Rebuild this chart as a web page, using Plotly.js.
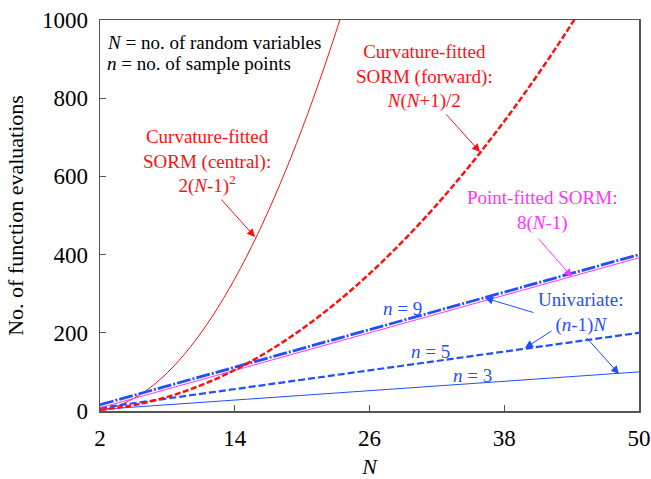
<!DOCTYPE html>
<html><head><meta charset="utf-8">
<script src="https://cdn.plot.ly/plotly-3.0.1.min.js"></script>
<style>body{margin:0;background:#fff}#c{width:651px;height:479px}</style>
</head><body><div id="c"></div>
<script>
// Values
const nCentral = [2,3,4,5,6,7,8,9,10,11,12,13,14,15,16,17,18,19,20,21,22,23,24];
const centralSORM = [2,8,18,32,50,72,98,128,162,200,242,288,338,392,450,512,578,648,722,800,882,968,1058];
const nForward = [2,4,6,8,10,12,14,16,18,20,22,24,26,28,30,32,34,36,38,40,42,44,46];
const forwardSORM = [3,10,21,36,55,78,105,136,171,210,253,300,351,406,465,528,595,666,741,820,903,990,1081];
const nLinear = [2,50];
const pointSORM = [8,392];
const univariate9 = [16,400];
const univariate5 = [8,200];
const univariate3 = [4,100];
const xTicks = [2,14,26,38,50];
const yTicks = [0,200,400,600,800,1000];

const RED = '#ff1010', BLUE = '#1f4fff', MAG = '#ff33ff';
const traces = [
  {x:nCentral, y:centralSORM, mode:'lines', line:{color:RED, width:1, shape:'spline'}},
  {x:nLinear, y:univariate3, mode:'lines', line:{color:BLUE, width:1}},
  {x:nLinear, y:univariate5, mode:'lines', line:{color:BLUE, width:2.2, dash:'7px,3px'}},
  {x:nLinear, y:pointSORM, mode:'lines', line:{color:MAG, width:1}},
  {x:nLinear, y:univariate9, mode:'lines', line:{color:BLUE, width:2.8, dash:'14px,2px,2px,2px'}},
  {x:nForward, y:forwardSORM, mode:'lines', line:{color:RED, width:2.5, dash:'6px,2.5px', shape:'spline'}}
];

const F = "'Liberation Serif', 'DejaVu Serif', serif";
function txt(x,y,text,color,align){return {x:x,y:y,xref:'x',yref:'y',text:text,showarrow:false,font:{family:F,size:19,color:color},align:align||'center',xanchor:align==='left'?'left':'center',yanchor:'middle'};}
function arr(tx,ty,ax,ay,color){return {x:tx,y:ty,ax:ax,ay:ay,xref:'x',yref:'y',axref:'x',ayref:'y',text:'',showarrow:true,arrowhead:2,arrowsize:1.6,arrowwidth:1,arrowcolor:color,standoff:0,startstandoff:0};}
const xd = px => 2+(px-100)/539*48;
const yd = py => (411-py)/391*1000;

const annotations = [
  txt(xd(105),yd(42),'<i>N</i> = no. of random variables','#000','left'),
  txt(xd(105),yd(63),'<i>n</i> = no. of sample points','#000','left'),
  txt(xd(207),yd(161),'Curvature-fitted<br>SORM (central):<br>2(<i>N</i>-1)<sup>2</sup>',RED),
  arr(xd(255),yd(237),xd(220),yd(198),RED),
  txt(xd(424),yd(76),'Curvature-fitted<br>SORM (forward):<br><i>N</i>(<i>N</i>+1)/2',RED),
  arr(xd(480),yd(152),xd(445),yd(113),RED),
  txt(xd(542),yd(210),'Point-fitted SORM:<br>8(<i>N</i>-1)',MAG),
  arr(xd(572),yd(277),xd(537),yd(237),MAG),
  txt(xd(580),yd(312),'Univariate:<br>(<i>n</i>-1)<i>N</i>',BLUE),
  arr(xd(485),yd(298),xd(535),yd(313),BLUE),
  arr(xd(525),yd(348),xd(553),yd(330),BLUE),
  arr(xd(619),yd(374),xd(585),yd(336),BLUE),
  txt(xd(402),yd(308),'<i>n</i> = 9',BLUE),
  txt(xd(430),yd(351),'<i>n</i> = 5',BLUE),
  txt(xd(472),yd(375),'<i>n</i> = 3',BLUE)
];

const layout = {
  width:651, height:479, showlegend:false,
  margin:{l:100, r:12, t:20, b:68},
  paper_bgcolor:'#fff', plot_bgcolor:'#fff',
  font:{family:F, size:22, color:'#000'},
  xaxis:{range:[2,50], tickvals:xTicks, ticks:'inside', ticklen:6, tickcolor:'#555', showline:true, linecolor:'#555', linewidth:1.5, mirror:true, showgrid:false, zeroline:false,
    ticklabelstandoff:6, tickfont:{family:F,size:23}, title:{text:'<i>N</i>', font:{family:F,size:22}, standoff:12}},
  yaxis:{range:[0,1000], tickvals:yTicks, ticks:'inside', ticklen:6, tickcolor:'#555', showline:true, linecolor:'#555', linewidth:1.5, mirror:true, showgrid:false, zeroline:false,
    ticklabelstandoff:6, tickfont:{family:F,size:23}, title:{text:'No. of function evaluations', font:{family:F,size:22}, standoff:12}},
  annotations:annotations
};
Plotly.newPlot('c', traces, layout, {staticPlot:true});
</script></body></html>
